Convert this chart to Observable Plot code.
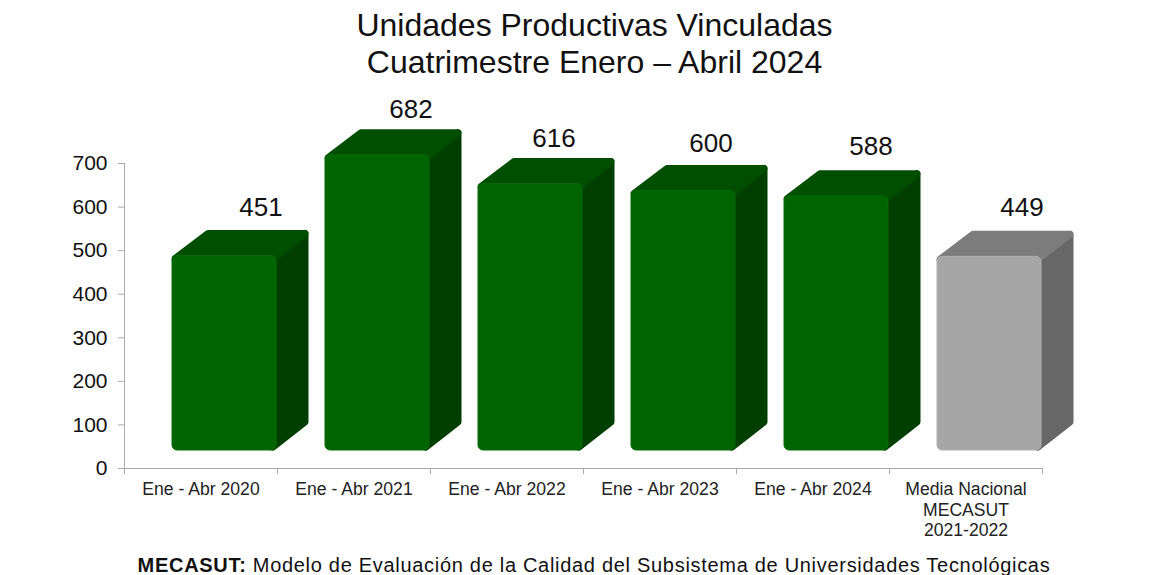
<!DOCTYPE html>
<html><head><meta charset="utf-8">
<script src="https://cdn.jsdelivr.net/npm/d3@7"></script>
<script src="https://cdn.jsdelivr.net/npm/@observablehq/plot@0.6"></script>
<style>
html,body{margin:0;padding:0;background:#fff;width:1169px;height:575px;overflow:hidden;font-family:"Liberation Sans",Arial,sans-serif;color:#111}
#t{position:absolute;left:0;top:7px;width:1189px;text-align:center;font-size:32px;line-height:37px}
#c{position:absolute;left:0;top:553px;width:1188px;text-align:center;font-size:20px;letter-spacing:.7px;line-height:24px;white-space:nowrap}
#b{position:absolute;left:8px;top:84px;width:1152px;height:463px;background:#fefefe}
#p{position:absolute;left:0;top:84px}
svg{display:block}
</style></head><body>
<div id="t">Unidades Productivas Vinculadas<br>Cuatrimestre Enero – Abril 2024</div>
<div id="b"></div>
<div id="p"></div>
<div id="c"><b>MECASUT:</b> Modelo de Evaluación de la Calidad del Subsistema de Universidades Tecnológicas</div>
<script>
const categories=["Ene - Abr 2020","Ene - Abr 2021","Ene - Abr 2022","Ene - Abr 2023","Ene - Abr 2024","Media Nacional\nMECASUT\n2021-2022"];
const values=[451,682,616,600,588,449];
const frontColors=["#006400","#006400","#006400","#006400","#006400","#a6a6a6"];
const edgeColors=["#086a08","#086a08","#086a08","#086a08","#086a08","#b0b0b0"];
const topColors=["#004f00","#004f00","#004f00","#004f00","#004f00","#7c7c7c"];
const sideColors=["#003f00","#003f00","#003f00","#003f00","#003f00","#676767"];
const yTicks=[0,100,200,300,400,500,600,700];
const data=categories.map((c,i)=>({c,v:values[i],f:frontColors[i],e:edgeColors[i],t:topColors[i],s:sideColors[i]}));
const DX=33,DY=26,LIFT=16,INL=48,INR=1,R=5;
// the reference's value labels sit unevenly above the bars
const labelNudgeX=[60,57,47,51,58,56];
const labelNudgeY=[-64,-62,-61,-63,-66,-65];
function faces(index,s){
  const g=d3.create("svg:g");
  const bw=typeof s.x.bandwidth==="function"?s.x.bandwidth():s.x.bandwidth;
  data.forEach(d=>{
    const xl=s.x(d.c)+INL, xr=s.x(d.c)+bw-INR, yt=s.y(d.v)-LIFT, yb=s.y(0)-18;
    g.append("path").attr("fill",d.s).attr("stroke",d.s).attr("stroke-width",R+2).attr("stroke-linejoin","round")
      .attr("d",`M${xr-3},${yt+3}L${xr+DX-4},${yt-DY+4}L${xr+DX-4},${yb-DY-2}L${xr-3},${yb-3}Z`);
    g.append("path").attr("fill",d.t).attr("stroke",d.t).attr("stroke-width",R+2).attr("stroke-linejoin","round")
      .attr("d",`M${xl+3},${yt+3}L${xl+DX+3},${yt-DY+4}L${xr+DX-4},${yt-DY+4}L${xr-3},${yt+3}Z`);
  });
  return g.node();
}
const axisColor="#aaa";
const plot=Plot.plot({
  width:1169,height:461,
  marginLeft:124,marginRight:127,marginTop:0,marginBottom:77,
  style:{fontFamily:'"Liberation Sans",Arial,sans-serif',background:"transparent",color:"#222"},
  x:{domain:categories,label:null,padding:0,axis:null},
  y:{domain:[0,700],label:null,axis:null,range:[384,79]},
  marks:[
    faces,
    Plot.barY(data,{x:"c",y:"v",fill:"f",stroke:"e",strokeWidth:1,rx:R,dy:-LIFT,insetBottom:2,insetLeft:INL,insetRight:INR}),
    ...data.map((d,i)=>Plot.text([d],{x:"c",y:"v",text:e=>String(e.v),dx:labelNudgeX[i],dy:labelNudgeY[i],fontSize:26,fill:"#111"})),
    Plot.axisY({ticks:yTicks,tickSize:6,tickPadding:11,fontSize:21,stroke:axisColor,color:"#111",label:null,tickFormat:d3.format("d")}),
    Plot.ruleX([categories[0]],{dx:-76.5,y1:0,y2:700,stroke:axisColor}),
    Plot.ruleY([0],{stroke:axisColor}),
    Plot.ruleX(categories,{dx:-76.5,y1:0,y2:-14,stroke:axisColor}),
    Plot.ruleX(categories.slice(-1),{dx:76.5,y1:0,y2:-14,stroke:axisColor}),
    Plot.text(categories,{x:d=>d,y:0,dy:12,lineAnchor:"top",fontSize:17.6,lineHeight:1.17,fill:"#222",text:d=>d})
  ]
});
document.getElementById("p").appendChild(plot);
</script></body></html>
